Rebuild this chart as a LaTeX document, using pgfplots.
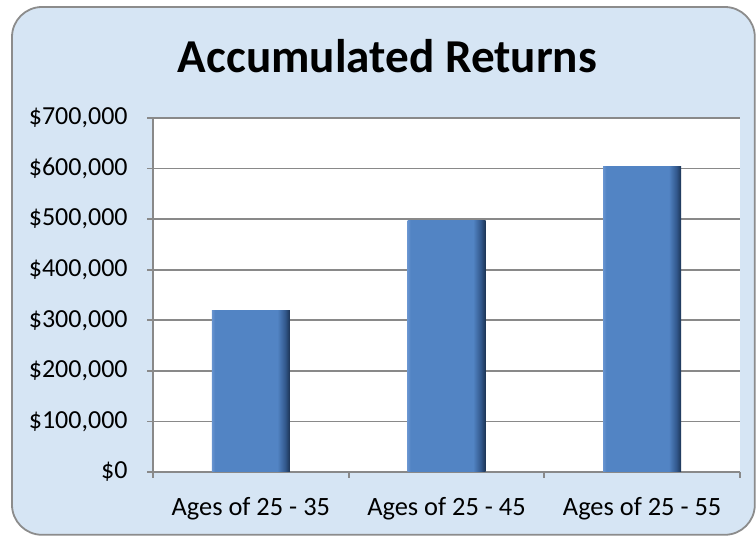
\documentclass[border=0pt]{standalone}
\usepackage{pgfplots}
\pgfplotsset{compat=1.18}
\usepackage{fontspec}
\setmainfont{Carlito}
\definecolor{bgblue}{RGB}{214,229,244}
\definecolor{framegray}{RGB}{140,140,140}
\definecolor{gridgray}{RGB}{137,137,137}
\definecolor{barL}{RGB}{104,148,208}
\definecolor{barM}{RGB}{82,132,196}
\definecolor{barD2}{RGB}{50,88,140}
\definecolor{barD}{RGB}{28,52,84}
\pgfdeclarehorizontalshading{barshade}{100bp}{color(0bp)=(barL); color(25bp)=(barL); color(27bp)=(barM); color(67bp)=(barM); color(72bp)=(barD2); color(75bp)=(barD); color(100bp)=(barD)}
\begin{document}
\begin{tikzpicture}
\useasboundingbox (0,0) rectangle (378pt,268pt);
\fill[white] (0,0) rectangle (378pt,268pt);
\filldraw[fill=bgblue, draw=framegray, line width=0.9pt, rounded corners=15pt] (6pt,0.6pt) rectangle (377.4pt,264.5pt);
\node[anchor=base, font=\fontsize{23.6}{28}\selectfont\bfseries] at (193.75pt,231.5pt) {Accumulated Returns};
\begin{axis}[at={(76.5pt,32pt)}, anchor=south west, scale only axis,
  width=293.5pt, height=177pt,
  xmin=-0.5, xmax=2.5, ymin=0, ymax=700000,
  axis background/.style={fill=white},
  axis x line*=bottom, axis y line*=left,
  axis line style={draw=gridgray, line width=0.9pt},
  xtick={0,1,2},
  xticklabels={Ages of 25 - 35, Ages of 25 - 45, Ages of 25 - 55},
  major x tick style={draw=none},
  minor xtick={-0.5,0.5,1.5,2.5},
  ytick={0,100000,200000,300000,400000,500000,600000,700000},
  yticklabels={{\$0},{\$100,000},{\$200,000},{\$300,000},{\$400,000},{\$500,000},{\$600,000},{\$700,000}},
  ymajorgrids, grid style={draw=gridgray, line width=0.9pt},
  tick align=outside, major tick length=3pt, minor tick length=3pt,
  tick style={draw=gridgray, line width=0.9pt},
  yticklabel style={font=\fontsize{13}{15}\selectfont, anchor=east, inner sep=0pt, xshift=-9.5pt},
  xticklabel style={font=\fontsize{13.2}{15}\selectfont, anchor=base, inner sep=0pt, yshift=-19pt},
  scaled y ticks=false,
  ybar, bar width=39pt, bar shift=0pt,
]
\addplot[draw=none, shading=barshade] coordinates {(0,320000)};
\addplot[draw=none, shading=barshade] coordinates {(1,498000)};
\addplot[draw=none, shading=barshade] coordinates {(2,605000)};
\end{axis}
\end{tikzpicture}
\end{document}
